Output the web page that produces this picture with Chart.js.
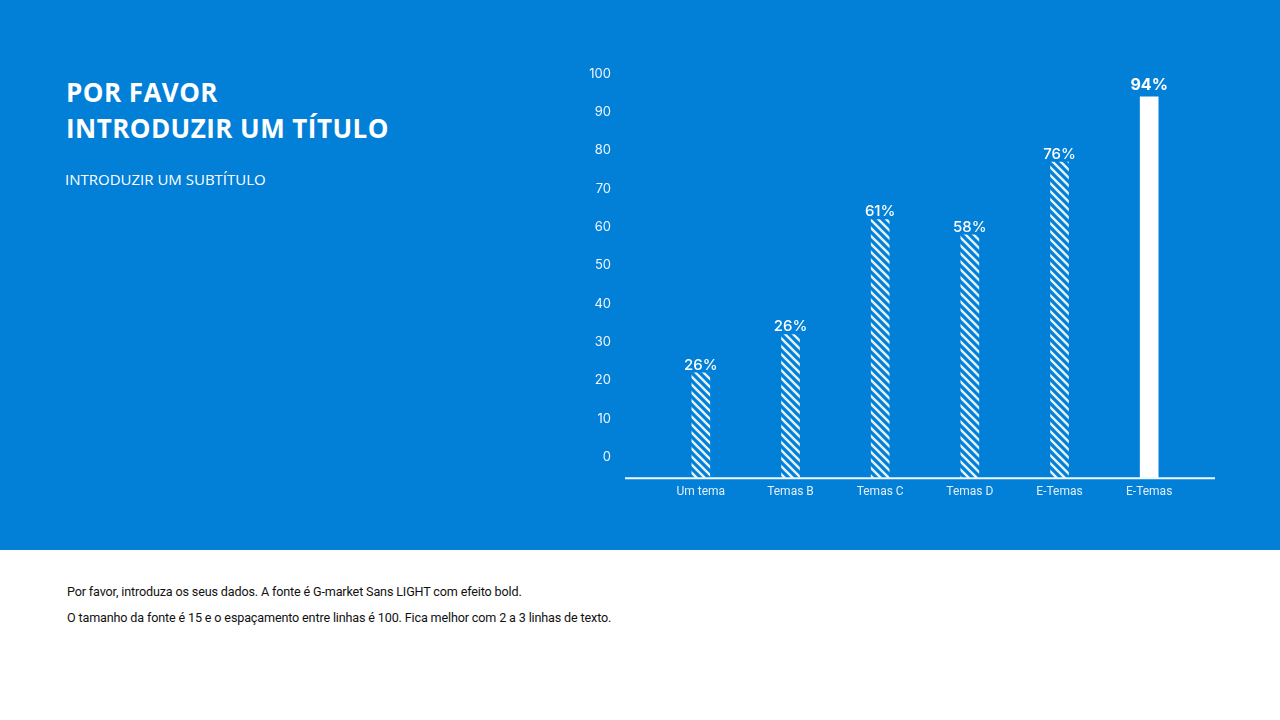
<!DOCTYPE html>
<html>
<head>
<meta charset="utf-8">
<script src="https://cdn.jsdelivr.net/npm/chart.js@4.4.1/dist/chart.umd.min.js"></script>
<style>
  html,body{margin:0;padding:0;width:1280px;height:720px;overflow:hidden;background:#fff;}
  #top{position:absolute;left:0;top:0;width:1280px;height:550px;background:#0280d8;}
  #title{position:absolute;left:66px;top:74px;color:#fff;font-family:"Open Sans",sans-serif;font-weight:700;font-size:26px;line-height:36px;letter-spacing:0.45px;margin:0;}
  #sub{position:absolute;left:65px;top:168px;color:#fff;font-family:"Open Sans",sans-serif;font-weight:400;font-size:15px;line-height:22px;margin:0;}
  #note{position:absolute;left:67px;top:579px;color:#111;font-family:Roboto,sans-serif;font-size:12.6px;line-height:26px;letter-spacing:-0.15px;margin:0;}
  #wrap{position:absolute;left:560px;top:21px;width:680px;height:510px;}
</style>
</head>
<body>
<div id="top"></div>
<h1 id="title">POR FAVOR<br>INTRODUZIR UM TÍTULO</h1>
<p id="sub">INTRODUZIR UM SUBTÍTULO</p>
<p id="note">Por favor, introduza os seus dados. A fonte é G-market Sans LIGHT com efeito bold.<br>O tamanho da fonte é 15 e o espaçamento entre linhas é 100. Fica melhor com 2 a 3 linhas de texto.</p>
<div id="wrap"><canvas id="c"></canvas></div>
<script>
const categories = ["Um tema","Temas B","Temas C","Temas D","E-Temas","E-Temas"];
const values = [22, 32, 62, 58, 77, 94];
const valueLabels = ["26%","26%","61%","58%","76%","94%"];
const yTicks = [0,10,20,30,40,50,60,70,80,90,100];

function makePattern(){
  const c=document.createElement('canvas'); c.width=8; c.height=8;
  const x=c.getContext('2d');
  x.strokeStyle='rgba(255,255,255,0.9)'; x.lineWidth=2.4; x.lineCap='square';
  x.beginPath();
  x.moveTo(-2,-2); x.lineTo(10,10);
  x.moveTo(-2,6); x.lineTo(2,10);
  x.moveTo(6,-2); x.lineTo(10,2);
  x.stroke();
  return x.createPattern(c,'repeat');
}
const pat = makePattern();
const fills = values.map((v,i)=> i===values.length-1 ? '#ffffff' : pat);

const axisLine = {
  id:'axisLine',
  afterDatasetsDraw(chart){
    const {ctx, chartArea:a} = chart;
    ctx.save();
    ctx.strokeStyle='#f2f7fc'; ctx.lineWidth=2;
    ctx.beginPath(); ctx.moveTo(a.left-31,a.bottom); ctx.lineTo(a.right+21,a.bottom); ctx.stroke();
    ctx.restore();
  }
};
const topLabels = {
  id:'topLabels',
  afterDatasetsDraw(chart){
    const {ctx} = chart;
    const meta = chart.getDatasetMeta(0);
    ctx.save();
    ctx.textAlign='center'; ctx.textBaseline='bottom';
    meta.data.forEach((bar,i)=>{
      const last = i===meta.data.length-1;
      ctx.fillStyle='#ffffff';
      ctx.font = (last?'700 16px':'500 15px')+' Inter, sans-serif';
      ctx.fillText(valueLabels[i], bar.x, bar.y-(last?4:0));
    });
    ctx.restore();
  }
};

new Chart(document.getElementById('c'),{
  type:'bar',
  data:{labels:categories,datasets:[{data:values,backgroundColor:fills,barThickness:18,base:-5.5,borderWidth:0}]},
  options:{
    responsive:true, maintainAspectRatio:false, animation:false,
    layout:{padding:{top:23,right:46,left:0,bottom:0}},
    plugins:{legend:{display:false},tooltip:{enabled:false}},
    scales:{
      x:{
        grid:{display:false,drawTicks:false}, border:{display:false},
        ticks:{color:'#e3eefa',font:{family:'Roboto, sans-serif',size:12},padding:7},
        afterFit(s){s.height=43;}
      },
      y:{
        min:-5.5, max:100,
        grid:{display:false,drawTicks:false}, border:{display:false},
        afterBuildTicks(s){s.ticks=yTicks.map(v=>({value:v}));},
        ticks:{color:'#eef5fc',font:{family:'Inter, sans-serif',size:13},padding:45},
        afterFit(s){s.width=96;}
      }
    }
  },
  plugins:[axisLine,topLabels]
});
</script>
</body>
</html>
